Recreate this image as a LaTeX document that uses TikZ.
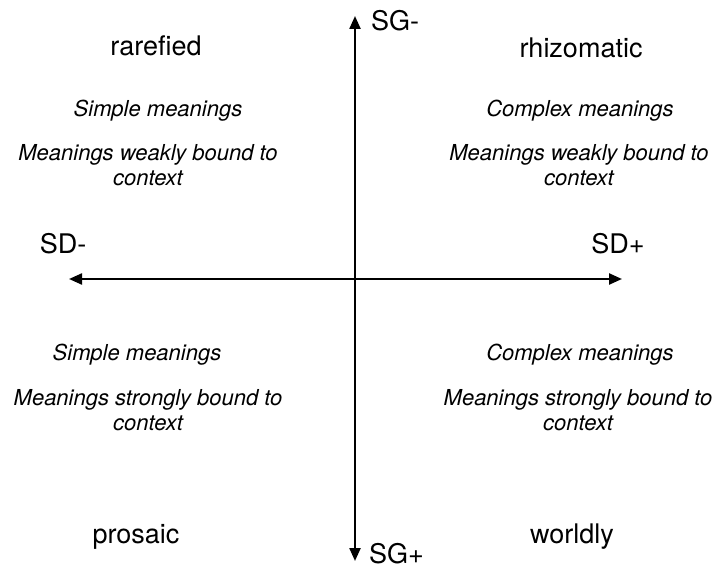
\documentclass[tikz,border=0pt]{standalone}
\usepackage{fontspec}
\setmainfont{TeX Gyre Heros}
\usetikzlibrary{arrows.meta}
\begin{document}
\begin{tikzpicture}[x=1pt,y=-1pt,
  tip/.tip={Triangle[length=13pt,width=11pt]},
  axis/.style={line width=2.3pt,tip-tip},
  quad/.style={font=\fontsize{27}{32}\selectfont, inner sep=0pt, anchor=base},
  pole/.style={font=\fontsize{27}{32}\selectfont, inner sep=0pt, anchor=base},
  note/.style={font=\fontsize{22}{25}\selectfont\itshape, inner sep=0pt, anchor=base, align=center}]
\useasboundingbox (0,0) rectangle (720,569);
% axis end points
\coordinate (top) at (355,16);
\coordinate (bottom) at (355,561);
\coordinate (left) at (69,279);
\coordinate (right) at (622,279);
\draw[axis] (bottom) -- (top);
\draw[axis] (left) -- (right);
% pole labels
\node[pole, anchor=base west] (sgm) at (371,31) {SG-};
\node[pole, anchor=base west] (sgp) at (369,563) {SG+};
\node[pole] (sdm) at (63,254) {SD-};
\node[pole] (sdp) at (618,254) {SD+};
% quadrant names
\node[quad] (rar) at (156,56) {rarefied};
\node[quad] (rhi) at (581,58) {rhizomatic};
\node[quad] (pro) at (136,543) {prosaic};
\node[quad] (wor) at (572,543) {worldly};
% quadrant descriptions (base of a two-line note is its last line)
\node[note] (tl1) at (158,117) {Simple meanings};
\node[note] (tl2) at (148,186) {Meanings weakly bound to\\context};
\node[note] (tr1) at (580,117) {Complex meanings};
\node[note] (tr2) at (579,186) {Meanings weakly bound to\\context};
\node[note] (bl1) at (137,360) {Simple meanings};
\node[note] (bl2) at (148,430) {Meanings strongly bound to\\context};
\node[note] (br1) at (580,360) {Complex meanings};
\node[note] (br2) at (578,430) {Meanings strongly bound to\\context};
\end{tikzpicture}
\end{document}
